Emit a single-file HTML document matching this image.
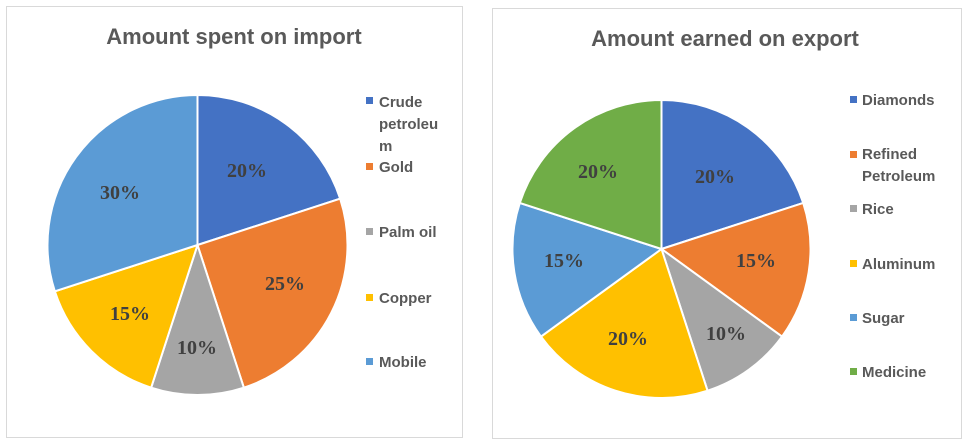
<!DOCTYPE html>
<html><head><style>
body{margin:0;background:#fff;width:966px;height:443px;overflow:hidden;}
svg{position:absolute;left:0;top:0;}
.t{font-family:"Liberation Sans",sans-serif;font-weight:bold;fill:#595959;}
.d{font-family:"Liberation Serif",serif;font-weight:bold;font-size:20px;fill:#404040;}
</style></head><body>
<svg id="s" width="966" height="443" xmlns="http://www.w3.org/2000/svg">
<rect x="6.5" y="6.5" width="456" height="431" fill="#fff" stroke="#d9d9d9"/>
<rect x="492.5" y="8.5" width="469" height="430" fill="#fff" stroke="#d9d9d9"/>
<g id="p1"></g><g id="p2"></g>
<text class="t" x="234" y="44" font-size="22" text-anchor="middle">Amount spent on import</text>
<text class="t" x="725" y="46" font-size="22" text-anchor="middle">Amount earned on export</text>
<g class="t" font-size="15">
<rect x="366" y="97" width="7" height="7" fill="#4472c4"/><text x="379" y="107">Crude</text><text x="379" y="129">petroleu</text><text x="379" y="151">m</text>
<rect x="366" y="163" width="7" height="7" fill="#ed7d31"/><text x="379" y="172">Gold</text>
<rect x="366" y="228" width="7" height="7" fill="#a5a5a5"/><text x="379" y="237">Palm oil</text>
<rect x="366" y="294" width="7" height="7" fill="#ffc000"/><text x="379" y="303">Copper</text>
<rect x="366" y="358" width="7" height="7" fill="#5b9bd5"/><text x="379" y="367">Mobile</text>
<rect x="850" y="96" width="7" height="7" fill="#4472c4"/><text x="862" y="105">Diamonds</text>
<rect x="850" y="151" width="7" height="7" fill="#ed7d31"/><text x="862" y="159">Refined</text><text x="862" y="181">Petroleum</text>
<rect x="850" y="205" width="7" height="7" fill="#a5a5a5"/><text x="862" y="214">Rice</text>
<rect x="850" y="260" width="7" height="7" fill="#ffc000"/><text x="862" y="269">Aluminum</text>
<rect x="850" y="314" width="7" height="7" fill="#5b9bd5"/><text x="862" y="323">Sugar</text>
<rect x="850" y="368" width="7" height="7" fill="#70ad47"/><text x="862" y="377">Medicine</text>
</g>
<g class="d" text-anchor="middle">
<text x="247" y="177">20%</text><text x="285" y="290">25%</text><text x="197" y="354">10%</text><text x="130" y="320">15%</text><text x="120" y="199">30%</text>
<text x="715" y="183">20%</text><text x="756" y="267">15%</text><text x="726" y="340">10%</text><text x="628" y="345">20%</text><text x="564" y="267">15%</text><text x="598" y="178">20%</text>
</g>
</svg>
<script>
function pie(id,cx,cy,r,vals,cols){
 var g=document.getElementById(id),a=0,h='';
 for(var i=0;i<vals.length;i++){
  var a1=a+vals[i]*2*Math.PI;
  var x0=cx+r*Math.sin(a),y0=cy-r*Math.cos(a),x1=cx+r*Math.sin(a1),y1=cy-r*Math.cos(a1);
  h+='<path d="M'+cx+','+cy+'L'+x0+','+y0+'A'+r+','+r+' 0 '+(vals[i]>.5?1:0)+' 1 '+x1+','+y1+'Z" fill="'+cols[i]+'" stroke="#fff" stroke-width="2"/>';
  a=a1;}
 g.innerHTML=h;}
pie('p1',197.5,245,150,[.2,.25,.1,.15,.3],['#4472c4','#ed7d31','#a5a5a5','#ffc000','#5b9bd5']);
pie('p2',661.5,249,149,[.2,.15,.1,.2,.15,.2],['#4472c4','#ed7d31','#a5a5a5','#ffc000','#5b9bd5','#70ad47']);
</script>
</body></html>
